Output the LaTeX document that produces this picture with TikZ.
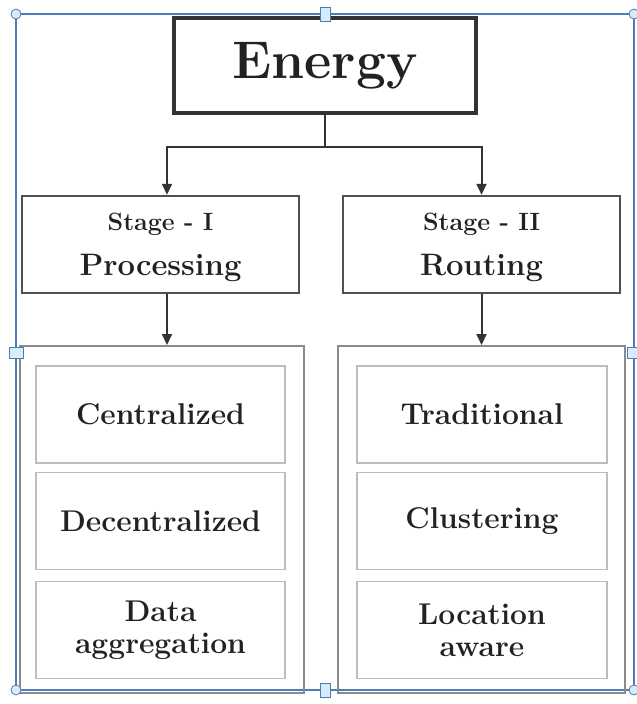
\documentclass[tikz,border=0pt]{standalone}
\usepackage{fontspec}
\usetikzlibrary{arrows.meta,calc}
\definecolor{txt}{HTML}{222222}
\definecolor{dark}{HTML}{333333}
\definecolor{stagec}{HTML}{505050}
\definecolor{outerc}{HTML}{8A8A8A}
\definecolor{innerc}{HTML}{BDBDBD}
\definecolor{selblue}{HTML}{4A7EBB}
\definecolor{handlefill}{HTML}{D8ECF8}
\tikzset{
  topbox/.style={draw=dark, line width=3.5pt, rectangle, inner sep=0pt,
    minimum width=302pt, minimum height=95pt, text=txt,
    font=\fontsize{53}{58}\selectfont\bfseries},
  stagebox/.style={draw=stagec, line width=2.5pt, rectangle, inner sep=0pt,
    minimum width=277pt, minimum height=97pt, text=txt, align=center,
    text depth=-4pt,
    font=\fontsize{31}{45}\selectfont\bfseries},
  outerbox/.style={draw=outerc, line width=2pt, rectangle, inner sep=0pt,
    minimum height=347pt},
  innerbox/.style={draw=innerc, line width=1.8pt, rectangle, inner sep=0pt,
    minimum width=249pt, minimum height=97pt, text=txt, align=center,
    font=\fontsize{30}{32}\selectfont\bfseries},
  conn/.style={draw=dark, line width=2pt},
  arr/.style={conn, -{Triangle[width=10pt,length=11pt]}},
  handlebox/.style={draw=selblue, fill=handlefill, line width=0.8pt},
}
\newcommand{\stagelbl}[2]{{\fontsize{25}{45}\selectfont #1}\\#2}
\begin{document}
\begin{tikzpicture}[x=1pt,y=-1pt]
\useasboundingbox (0,0) rectangle (637,704);
% selection frame
\draw[selblue, line width=1.5pt] (16,14) rectangle (634,690);
% boxes
\node[topbox] (energy) at (325,65.5) {Energy};
\node[stagebox] (s1) at (160.5,244.5) {\stagelbl{Stage - I}{Processing}};
\node[stagebox] (s2) at (481.5,244.5) {\stagelbl{Stage - II}{Routing}};
\node[outerbox, minimum width=284pt] (c1) at (162,519.5) {};
\node[outerbox, minimum width=287pt] (c2) at (481.5,519.5) {};
\node[innerbox] (a1) at (160.5,414.5) {Centralized};
\node[innerbox] (a2) at (160.5,521) {Decentralized};
\node[innerbox] (a3) at (160.5,630) {Data\\aggregation};
\node[innerbox, minimum width=250pt] (b1) at (482,414.5) {Traditional};
\node[innerbox, minimum width=250pt] (b2) at (482,521) {Clustering};
\node[innerbox, minimum width=250pt] (b3) at (482,630) {Location\\aware};
% connectors
\draw[conn] (energy.south) -- ++(0,32) coordinate (j);
\draw[arr] (j) -| ([xshift=6.5pt]s1.north);
\draw[arr] (j) -| (s2.north);
\draw[arr] ([xshift=6.5pt]s1.south) -- ([xshift=5pt]c1.north);
\draw[arr] (s2.south) -- (c2.north);
% selection handles
\foreach \p in {(16,14),(634,14),(16,690),(634,690)}
  \draw[handlebox] \p circle (5pt);
\draw[handlebox] (320,7) rectangle (330,21);
\draw[handlebox] (320,683) rectangle (330,697);
\draw[handlebox] (9,347) rectangle (23,358);
\draw[handlebox] (627,347) rectangle (641,358);
\end{tikzpicture}
\end{document}
